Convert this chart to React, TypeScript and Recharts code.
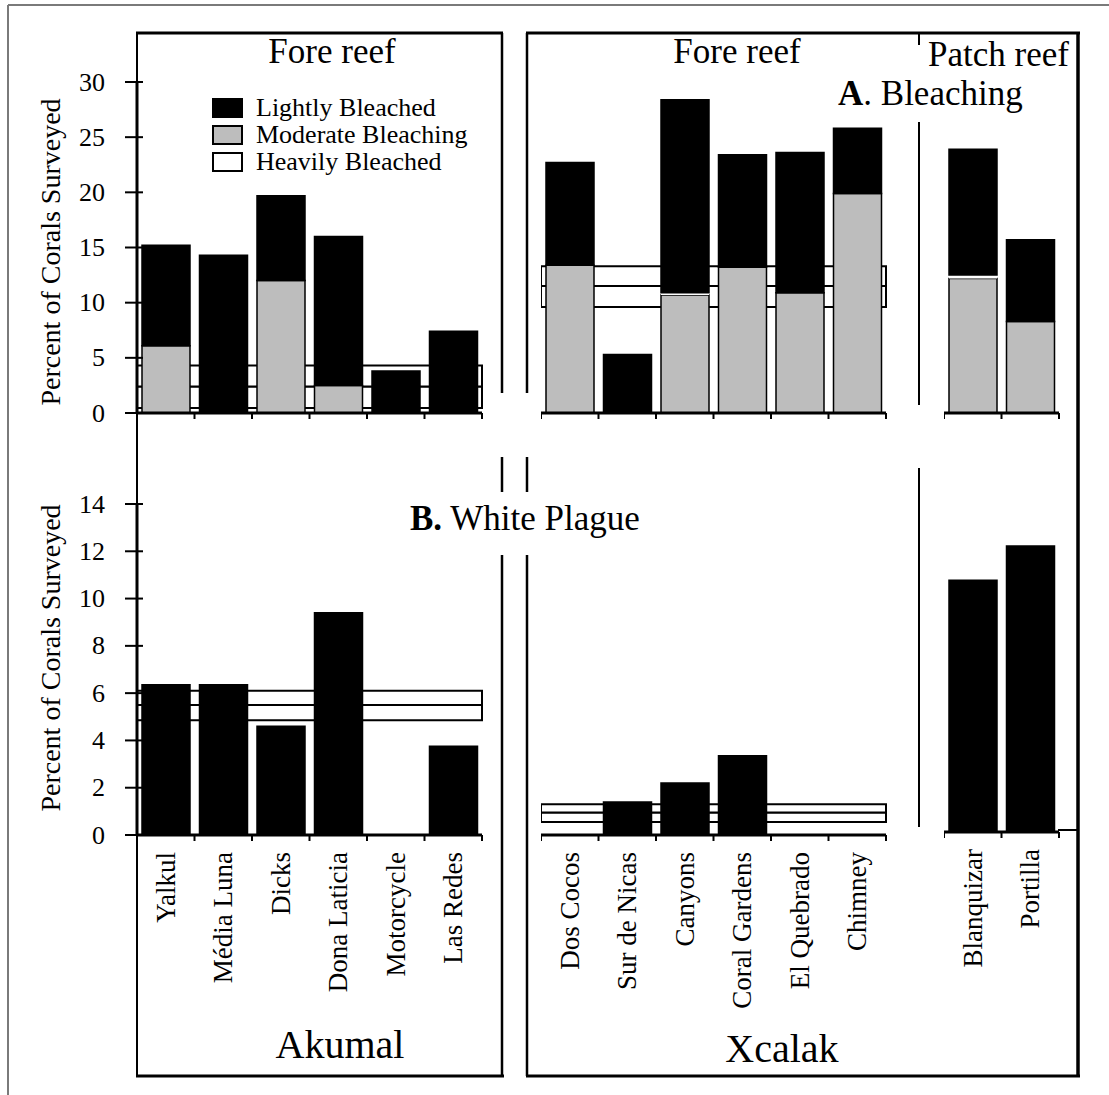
import React from 'react';
import { BarChart, Bar, XAxis, YAxis, ReferenceArea } from 'recharts';

const SERIF = "'Liberation Serif', 'Times New Roman', serif";
const GRAY = '#bdbdbd';

// sites
const akumalSites = ['Yalkul', 'Média Luna', 'Dicks', 'Dona Laticia', 'Motorcycle', 'Las Redes'];
const xcalakSites = ['Dos Cocos', 'Sur de Nicas', 'Canyons', 'Coral Gardens', 'El Quebrado', 'Chimney'];
const patchSites = ['Blanquizar', 'Portilla'];

// A. Bleaching, percent of corals surveyed
const akumalModerate = [6.1, 0, 12.0, 2.5, 0, 0];
const akumalHeavy = [0, 0, 0, 0, 0, 0];
const akumalLight = [9.1, 14.3, 7.7, 13.5, 3.8, 7.4];
const xcalakModerate = [13.4, 0, 10.7, 13.2, 10.9, 19.9];
const xcalakHeavy = [0, 0, 0.2, 0, 0, 0];
const xcalakLight = [9.3, 5.3, 17.5, 10.2, 12.7, 5.9];
const patchModerate = [12.2, 8.3];
const patchHeavy = [0.3, 0];
const patchLight = [11.4, 7.4];

// B. White plague
const akumalPlague = [6.35, 6.35, 4.6, 9.4, 0, 3.75];
const xcalakPlague = [0, 1.4, 2.2, 3.35, 0, 0];
const patchPlague = [10.65, 12.1];

// the open "heavily bleached" strips running across the panels (bottom, middle, top)
const akumalBleachBox = [0.45, 2.4, 4.3];
const xcalakBleachBox = [9.6, 11.5, 13.3];
const akumalPlagueBox = [4.85, 5.5, 6.1];
const xcalakPlagueBox = [0.55, 0.95, 1.3];

const bleachTicks = [0, 5, 10, 15, 20, 25, 30];
const plagueTicks = [0, 2, 4, 6, 8, 10, 12, 14];

const legendItems = [
  { label: 'Lightly Bleached', fill: '#000' },
  { label: 'Moderate Bleaching', fill: GRAY },
  { label: 'Heavily Bleached', fill: '#fff' },
];

const bleachRows = (sites: string[], light: number[], moderate: number[], heavy: number[]) =>
  sites.map((site, i) => ({ site, light: light[i], moderate: moderate[i], heavy: heavy[i] }));
const plagueRows = (sites: string[], values: number[]) => sites.map((site, i) => ({ site, plague: values[i] }));

const BAND = 57.5;
const PLOT_H = 331;
const Y_W = 100;
const TOP_PAD = 20;

function SiteTick(props: any) {
  const { x, y, payload, width, visibleTicksCount, index, showLabel } = props;
  const half = payload?.offset || width / visibleTicksCount / 2;
  const last = index === visibleTicksCount - 1;
  const ly = y + 17;
  return (
    <g>
      <line x1={x - half} y1={y} x2={x - half} y2={y + 6} stroke="#000" strokeWidth={2} />
      {last && <line x1={x + half} y1={y} x2={x + half} y2={y + 6} stroke="#000" strokeWidth={2} />}
      {showLabel && (
        <text
          x={x}
          y={ly}
          transform={`rotate(-90 ${x} ${ly})`}
          textAnchor="end"
          dominantBaseline="central"
          fontFamily={SERIF}
          fontSize={27}
          fill="#000"
        >
          {payload.value}
        </text>
      )}
    </g>
  );
}

// value tick: label plus a tick mark that crosses the axis
function ValueTick(props: any) {
  const { x, y, payload } = props;
  return (
    <g>
      <line x1={x + 20} y1={y} x2={x + 38} y2={y} stroke="#000" strokeWidth={2} />
      <text x={x} y={y} textAnchor="end" dominantBaseline="central" fontFamily={SERIF} fontSize={26} fill="#000">
        {payload.value}
      </text>
    </g>
  );
}

function Panel({ left, top, sites, data, kind, yMax, yTicks, showYAxis, showLabels, box }: any) {
  const plotW = BAND * sites.length;
  const yW = showYAxis ? Y_W : 0;
  const xH = showLabels ? 200 : 20;
  const width = yW + plotW + 10;
  const height = TOP_PAD + PLOT_H + xH;
  const boxes = box
    ? [
        <ReferenceArea key="lo" y1={box[0]} y2={box[1]} fill="#fff" fillOpacity={1} stroke="#000" strokeWidth={2} />,
        <ReferenceArea key="hi" y1={box[1]} y2={box[2]} fill="#fff" fillOpacity={1} stroke="#000" strokeWidth={2} />,
      ]
    : [];
  const bars =
    kind === 'bleach'
      ? [
          <Bar key="m" dataKey="moderate" stackId="s" fill={GRAY} stroke="#000" strokeWidth={1.5} isAnimationActive={false} />,
          <Bar key="h" dataKey="heavy" stackId="s" fill="#fff" isAnimationActive={false} />,
          <Bar key="l" dataKey="light" stackId="s" fill="#000" stroke="#000" strokeWidth={1.5} isAnimationActive={false} />,
        ]
      : [<Bar key="p" dataKey="plague" fill="#000" stroke="#000" strokeWidth={1.5} isAnimationActive={false} />];
  return (
    <div style={{ position: 'absolute', left: left - yW, top: top - TOP_PAD }}>
      <BarChart width={width} height={height} data={data} margin={{ top: TOP_PAD, right: 10, left: 0, bottom: 0 }} barSize={48}>
        <XAxis
          dataKey="site"
          interval={0}
          height={xH}
          tickSize={0}
          tickMargin={0}
          tickLine={false}
          axisLine={{ stroke: '#000', strokeWidth: 3 }}
          tick={(p: any) => <SiteTick {...p} showLabel={showLabels} />}
        />
        <YAxis
          hide={!showYAxis}
          width={yW}
          domain={[0, yMax]}
          ticks={yTicks}
          interval={0}
          tickSize={12}
          tickMargin={20}
          tickLine={false}
          axisLine={{ stroke: '#000', strokeWidth: 3 }}
          tick={(p: any) => <ValueTick {...p} />}
        />
        {boxes}
        {bars}
      </BarChart>
    </div>
  );
}

const T = { fontFamily: SERIF, fill: '#000' };

export default function App() {
  return (
    <div style={{ position: 'absolute', left: 0, top: 0, width: 1109, height: 1095, background: '#fff', overflow: 'hidden' }}>
      <svg width={1109} height={1095} style={{ position: 'absolute', left: 0, top: 0 }}>
        {/* outer frame */}
        <line x1={8} y1={5} x2={1109} y2={5} stroke="#7a7a7a" strokeWidth={2} />
        <line x1={8} y1={5} x2={8} y2={1095} stroke="#7a7a7a" strokeWidth={2} />
        {/* Akumal box */}
        <line x1={137} y1={33} x2={137} y2={1076} stroke="#000" strokeWidth={2} />
        <line x1={136} y1={33} x2={503} y2={33} stroke="#000" strokeWidth={3} />
        <line x1={502} y1={33} x2={502} y2={393} stroke="#000" strokeWidth={2.5} />
        <line x1={502} y1={457} x2={502} y2={492} stroke="#000" strokeWidth={2.5} />
        <line x1={502} y1={555} x2={502} y2={1076} stroke="#000" strokeWidth={2.5} />
        <line x1={136} y1={1076} x2={504} y2={1076} stroke="#000" strokeWidth={3} />
        {/* Xcalak box */}
        <line x1={527} y1={33} x2={527} y2={393} stroke="#000" strokeWidth={2.5} />
        <line x1={527} y1={457} x2={527} y2={492} stroke="#000" strokeWidth={2.5} />
        <line x1={527} y1={555} x2={527} y2={1076} stroke="#000" strokeWidth={2.5} />
        <line x1={526} y1={33} x2={1080} y2={33} stroke="#000" strokeWidth={3} />
        <line x1={1078} y1={32} x2={1078} y2={1077} stroke="#000" strokeWidth={3.5} />
        <line x1={526} y1={1076} x2={1080} y2={1076} stroke="#000" strokeWidth={3} />
        {/* fore reef / patch reef divider */}
        <line x1={919} y1={33} x2={919} y2={45} stroke="#000" strokeWidth={2} />
        <line x1={919} y1={122} x2={919} y2={405} stroke="#000" strokeWidth={2} />
        <line x1={919} y1={468} x2={919} y2={827} stroke="#000" strokeWidth={2} />
        <line x1={1058} y1={830} x2={1078} y2={830} stroke="#000" strokeWidth={2} />

        {/* titles */}
        <text x={332} y={63} textAnchor="middle" fontSize={35} {...T}>Fore reef</text>
        <text x={737} y={63} textAnchor="middle" fontSize={35} {...T}>Fore reef</text>
        <text x={928} y={66} fontSize={35} {...T}>Patch reef</text>
        <text x={838} y={105} fontSize={35} {...T}>
          <tspan fontWeight="bold">A</tspan>. Bleaching
        </text>
        <text x={410} y={530} fontSize={35} {...T}>
          <tspan fontWeight="bold">B.</tspan> White Plague
        </text>
        <text x={340} y={1058} textAnchor="middle" fontSize={40} {...T}>Akumal</text>
        <text x={782} y={1062} textAnchor="middle" fontSize={40} {...T}>Xcalak</text>

        {/* y axis titles */}
        <text x={50} y={252} transform="rotate(-90 50 252)" textAnchor="middle" dominantBaseline="central" fontSize={28} {...T}>
          Percent of Corals Surveyed
        </text>
        <text x={50} y={658} transform="rotate(-90 50 658)" textAnchor="middle" dominantBaseline="central" fontSize={28} {...T}>
          Percent of Corals Surveyed
        </text>

        {/* legend */}
        {legendItems.map((item, i) => (
          <g key={item.label}>
            <rect x={213} y={99 + i * 27} width={29} height={18} fill={item.fill} stroke="#000" strokeWidth={2} />
            <text x={256} y={116 + i * 27} fontSize={26} {...T}>{item.label}</text>
          </g>
        ))}
      </svg>

      {/* A. Bleaching */}
      <Panel left={137} top={82} sites={akumalSites} data={bleachRows(akumalSites, akumalLight, akumalModerate, akumalHeavy)}
        kind="bleach" yMax={30} yTicks={bleachTicks} showYAxis showLabels={false} box={akumalBleachBox} />
      <Panel left={541} top={82} sites={xcalakSites} data={bleachRows(xcalakSites, xcalakLight, xcalakModerate, xcalakHeavy)}
        kind="bleach" yMax={30} yTicks={bleachTicks} showYAxis={false} showLabels={false} box={xcalakBleachBox} />
      <Panel left={944} top={82} sites={patchSites} data={bleachRows(patchSites, patchLight, patchModerate, patchHeavy)}
        kind="bleach" yMax={30} yTicks={bleachTicks} showYAxis={false} showLabels={false} />

      {/* B. White plague */}
      <Panel left={137} top={504} sites={akumalSites} data={plagueRows(akumalSites, akumalPlague)}
        kind="plague" yMax={14} yTicks={plagueTicks} showYAxis showLabels box={akumalPlagueBox} />
      <Panel left={541} top={504} sites={xcalakSites} data={plagueRows(xcalakSites, xcalakPlague)}
        kind="plague" yMax={14} yTicks={plagueTicks} showYAxis={false} showLabels box={xcalakPlagueBox} />
      <Panel left={944} top={501} sites={patchSites} data={plagueRows(patchSites, patchPlague)}
        kind="plague" yMax={14} yTicks={plagueTicks} showYAxis={false} showLabels />
    </div>
  );
}
